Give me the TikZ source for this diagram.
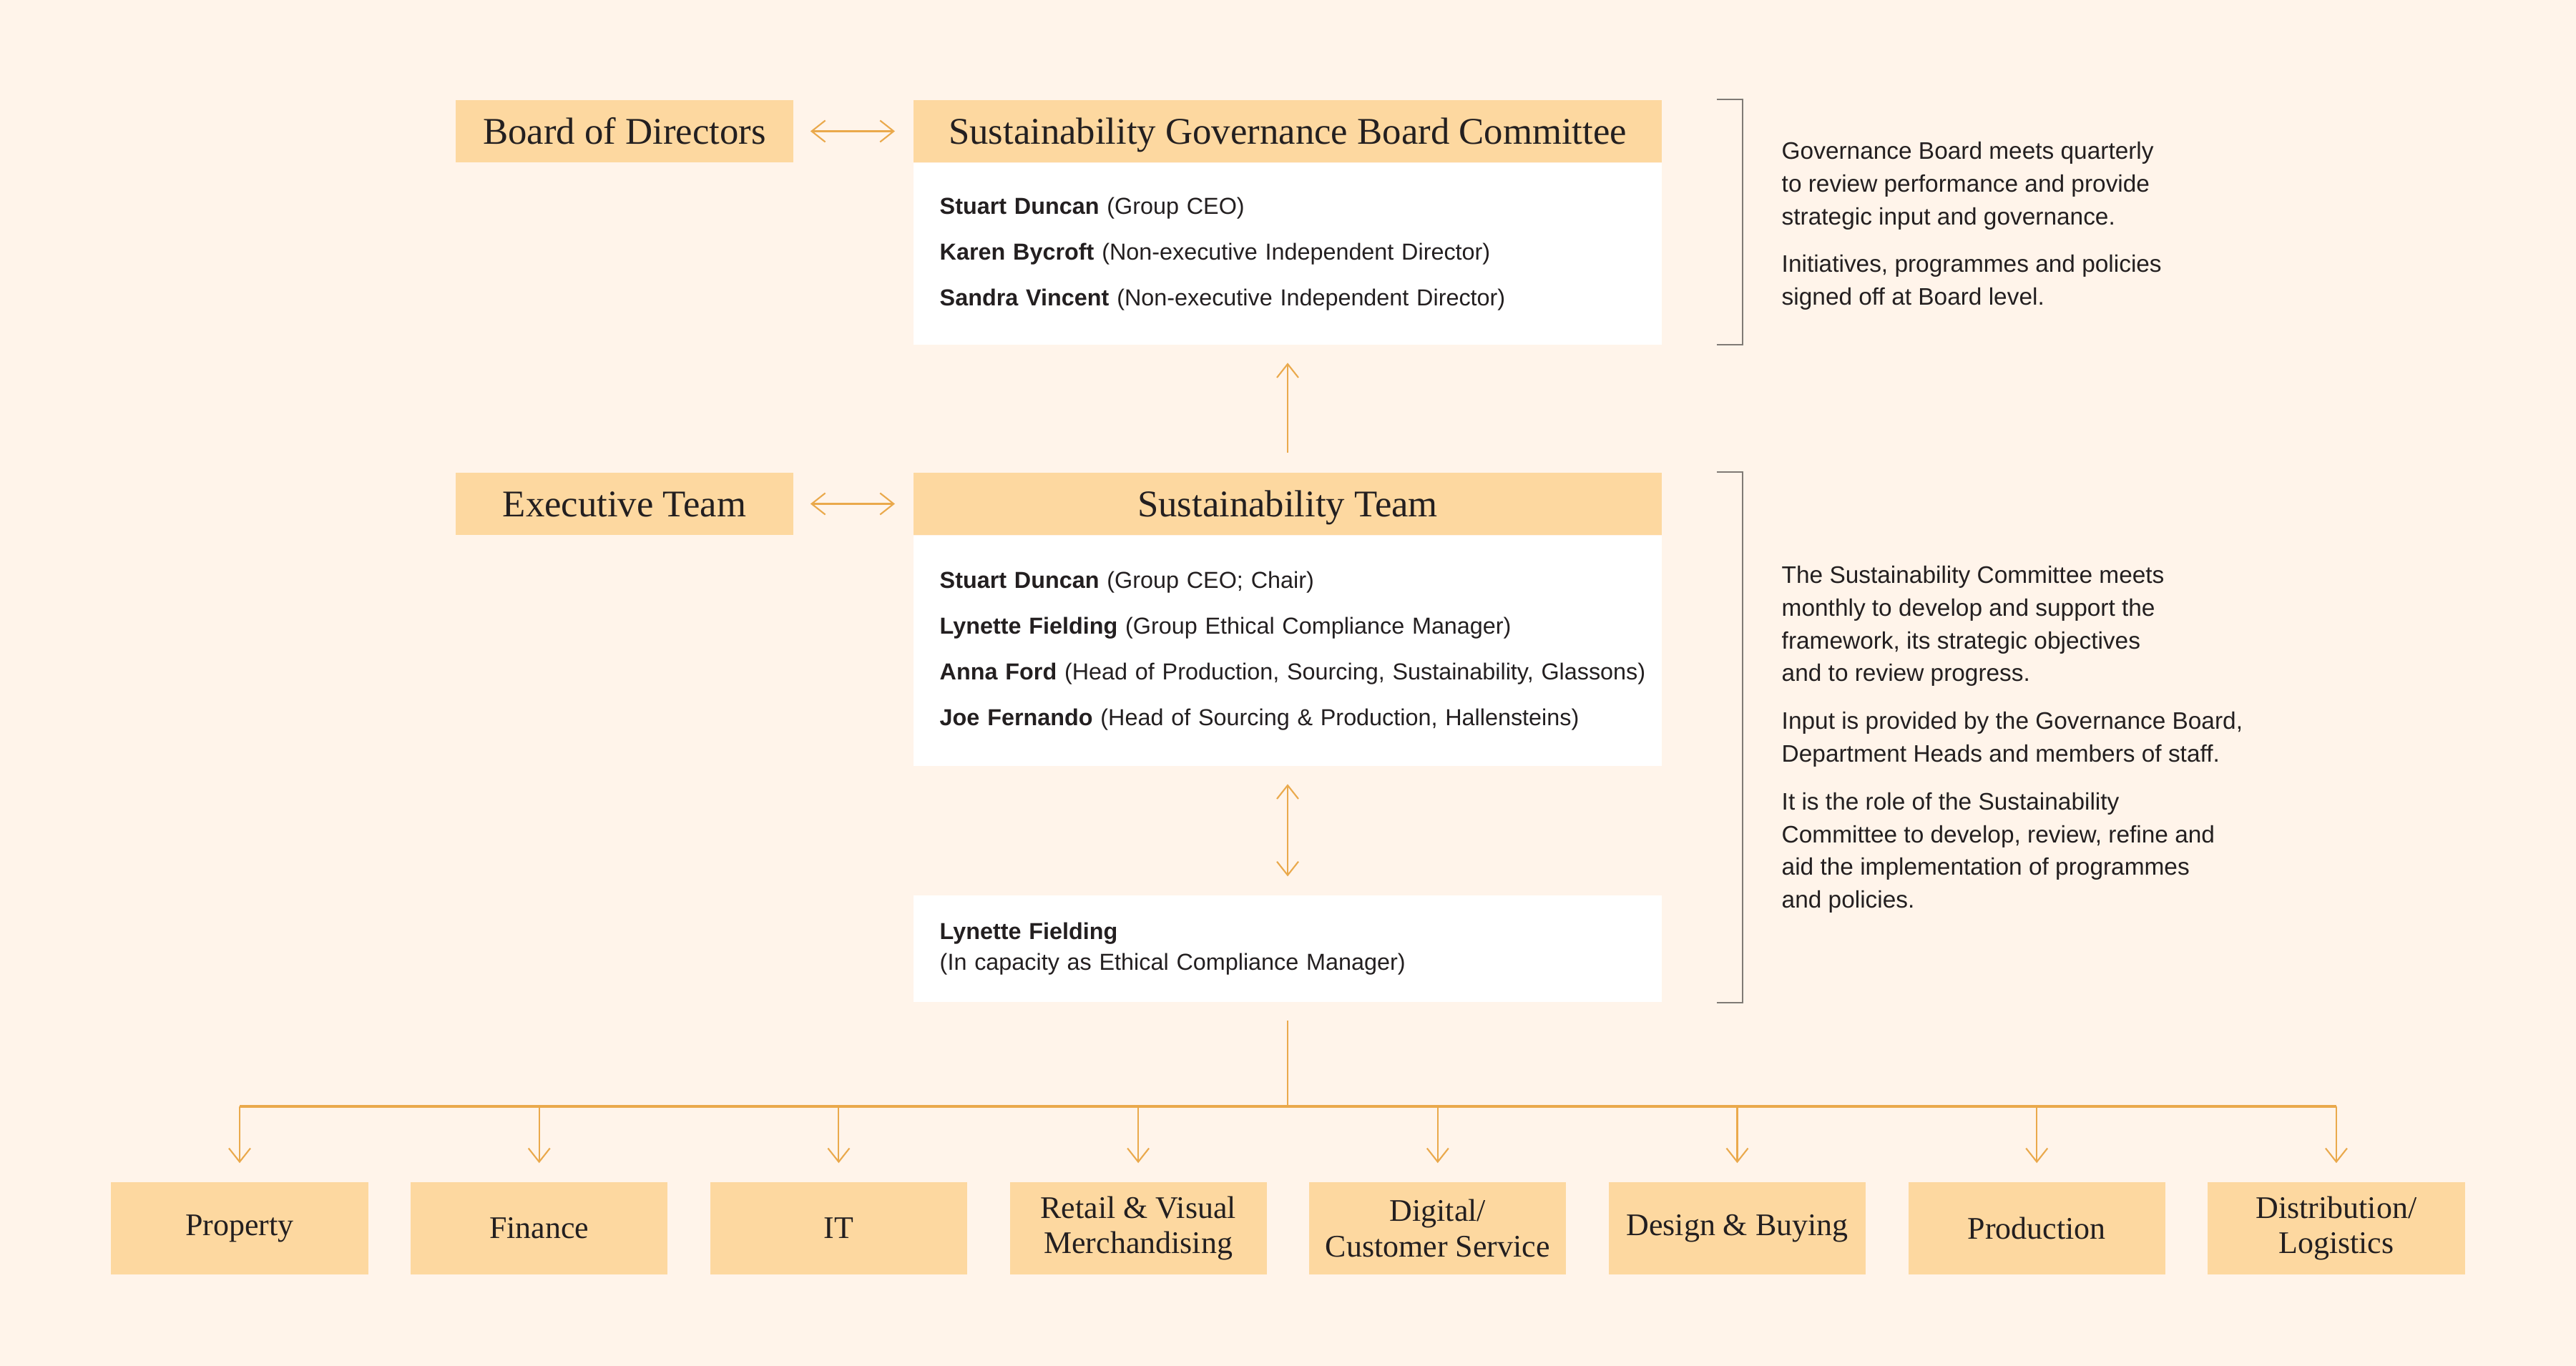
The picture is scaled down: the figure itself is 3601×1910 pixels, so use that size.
\documentclass[tikz,border=0pt]{standalone}
\usepackage{fontspec}
\setmainfont{Liberation Serif}
\setsansfont{Liberation Sans}
\usetikzlibrary{positioning,arrows.meta}
\definecolor{cream}{HTML}{FFF4EA}
\definecolor{sand}{HTML}{FDD8A0}
\definecolor{amber}{HTML}{EAA94C}
\definecolor{ink}{HTML}{231F20}
\definecolor{rulegray}{HTML}{7F7A75}
\begin{document}
\begin{tikzpicture}[x=0.01cm,y=-0.01cm,
  head/.style={fill=sand,text=ink,minimum height=0.87cm,inner sep=0pt,text height=10pt,text depth=0pt,font=\fontsize{15}{18}\selectfont},
  body/.style={fill=white,text=ink,minimum width=10.46cm,text width=9.72cm,inner xsep=0.37cm,inner ysep=0pt,align=left,font=\sffamily\fontsize{9.2}{18.2}\selectfont},
  dept/.style={fill=sand,text=ink,minimum width=3.59cm,minimum height=1.29cm,inner sep=0pt,align=center,font=\fontsize{12.5}{14.2}\selectfont},
  note/.style={anchor=west,text=ink,inner sep=0pt,align=left,font=\sffamily\fontsize{9.5}{13}\selectfont},
  link/.style={amber,line width=0.6pt},
  arr/.style={link,-{Straight Barb[length=1.9mm,width=3mm]}},
  dbl/.style={link,{Straight Barb[length=1.9mm,width=3mm]}-{Straight Barb[length=1.9mm,width=3mm]}},
  bracket/.style={rulegray,line width=0.6pt}]
\fill[cream] (0,0) rectangle (3601,1910);
\useasboundingbox (0,0) rectangle (3601,1910);
\node[head,minimum width=10.46cm] (sgbc) at (1800,183.5) {Sustainability Governance Board Committee};
\node[body,minimum height=2.53cm,below=0pt of sgbc] (sgbcbody) {\textbf{Stuart Duncan} (Group CEO)\\\textbf{Karen Bycroft} (Non-executive Independent Director)\\\textbf{Sandra Vincent} (Non-executive Independent Director)};
\node[head,minimum width=4.72cm,left=1.66cm of sgbc] (bod) {Board of Directors};
\node[head,minimum width=10.46cm] (st) at (1800,704.5) {Sustainability Team};
\node[body,minimum height=3.21cm,below=0pt of st] (stbody) {\textbf{Stuart Duncan} (Group CEO; Chair)\\\textbf{Lynette Fielding} (Group Ethical Compliance Manager)\\\mbox{\textbf{Anna Ford} (Head of Production, Sourcing, Sustainability, Glassons)}\\\textbf{Joe Fernando} (Head of Sourcing \& Production, Hallensteins)};
\node[head,minimum width=4.72cm,left=1.66cm of st] (exec) {Executive Team};
\node[body,minimum height=1.49cm,below=1.8cm of stbody,font=\sffamily\fontsize{9.2}{12.2}\selectfont] (lyn) {\textbf{Lynette Fielding}\\(In capacity as Ethical Compliance Manager)};
\foreach \i/\t in {1/Property,2/Finance,3/IT,4/{Retail \& Visual\\Merchandising},5/{Digital/\\Customer Service},6/Design \& Buying,7/Production,8/{Distribution/\\Logistics}}
  \node[dept] (d\i) at ({335+418.7*(\i-1)},1717.5) {\t};
\coordinate (bus) at (1800,1547);
\draw[dbl,shorten <=2.3mm,shorten >=2.5mm] (bod.east) -- (sgbc.west);
\draw[dbl,shorten <=2.3mm,shorten >=2.5mm] (exec.east) -- (st.west);
\draw[arr,shorten <=2.7mm,shorten >=2.5mm] (st.north) -- (sgbcbody.south);
\draw[dbl,shorten <=2.5mm,shorten >=2.6mm] (stbody.south) -- (lyn.north);
\draw[link,shorten <=2.5mm] (lyn.south) -- (bus);
\draw[link,line width=0.9pt] (d1.north |- bus) -- (d8.north |- bus);
\foreach \i in {1,...,8}
  \draw[arr,shorten >=2.6mm] (d\i.north |- bus) -- (d\i.north);
\draw[bracket] (2400,0 |- sgbc.north) -| (2436,0 |- sgbcbody.south) -- (2400,0 |- sgbcbody.south);
\draw[bracket] (2400,0 |- st.north) -| (2436,0 |- lyn.south) -- (2400,0 |- lyn.south);
\node[note] (govnote) at (2490,316) {Governance Board meets quarterly\\to review performance and provide\\strategic input and governance.\\[6pt]Initiatives, programmes and policies\\signed off at Board level.};
\node[note] (stnote) at (2490,1034) {The Sustainability Committee meets\\monthly to develop and support the\\framework, its strategic objectives\\and to review progress.\\[6pt]Input is provided by the Governance Board,\\Department Heads and members of staff.\\[6pt]It is the role of the Sustainability\\Committee to develop, review, refine and\\aid the implementation of programmes\\and policies.};
\end{tikzpicture}
\end{document}
